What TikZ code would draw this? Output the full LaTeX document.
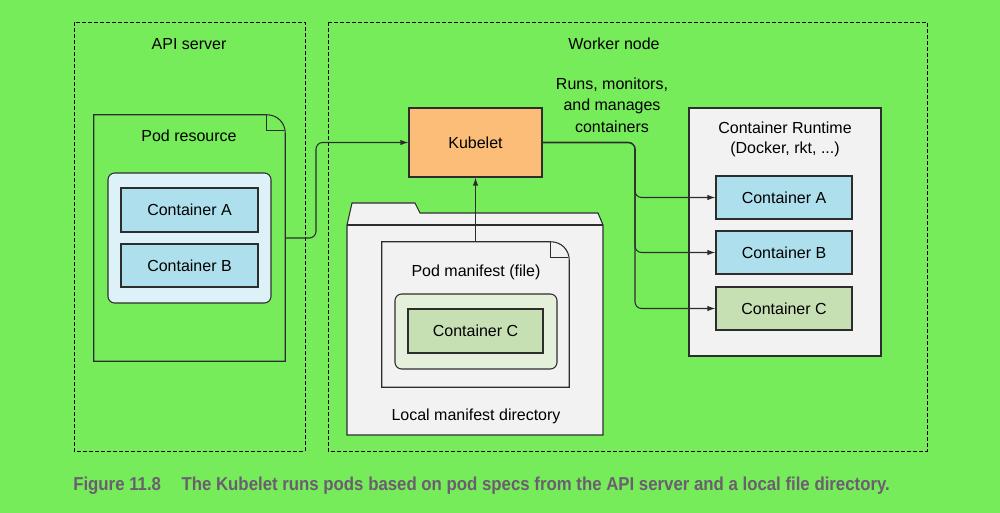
\documentclass[tikz,border=0pt]{standalone}
\usepackage{fontspec}
\setmainfont{Liberation Sans}
\newfontfamily\capfont[FakeStretch=0.9]{Liberation Sans}
\usetikzlibrary{arrows.meta,positioning,fit,shapes}

\definecolor{bggreen}{RGB}{119,236,90}
\definecolor{lineg}{RGB}{45,45,45}
\definecolor{ctblue}{RGB}{173,223,236}
\definecolor{podblue}{RGB}{221,241,248}
\definecolor{kubeorange}{RGB}{251,189,120}
\definecolor{dirgray}{RGB}{242,242,242}
\definecolor{ctgreen}{RGB}{198,224,180}
\definecolor{podgreen}{RGB}{229,240,219}
\definecolor{capgray}{RGB}{107,94,112}

\tikzset{
  every node/.style={font=\fontsize{12}{15}\selectfont, text=black},
  zone/.style={draw=black, line width=0.6pt, dash pattern=on 3pt off 1.5pt},
  docline/.style={draw=lineg, line width=0.8pt},
  box/.style={draw=lineg, line width=0.8pt, inner sep=0pt},
  arrow/.style={draw=lineg, line width=0.8pt, rounded corners=5pt, -{Latex[length=6pt,width=4pt]}}
}

\newcommand{\docpath}[1]{%
  \draw[docline] (#1.south west) -- (#1.north west) -- ([xshift=-14pt]#1.north east)
    .. controls ([xshift=-6pt]#1.north east) and ([yshift=-6pt]#1.north east) .. ([yshift=-14pt]#1.north east)
    -- (#1.south east) -- cycle;
  \draw[docline] ([xshift=-14pt]#1.north east) -- ([xshift=-14pt,yshift=-12pt]#1.north east)
    -- ([xshift=-1pt,yshift=-12pt]#1.north east);}

\begin{document}
\begin{tikzpicture}[x=0.75pt,y=-0.75pt]
    \path[use as bounding box, fill=bggreen] (0,0) rectangle (1000,513);

    % dashed zones
    \draw[zone] (74,22) rectangle (305,451);
    \draw[zone] (328,22) rectangle (927,451);
    \node (apilabel) at (189,44) {API server};
    \node (workerlabel) at (614,44) {Worker node};

    % pod resource on the API server
    \node[inner sep=0pt, fit={(94,115) (285,361)}] (podres) {};
    \docpath{podres}
    \node (podreslabel) at (189,136) {Pod resource};
    \node[box, fill=podblue, rounded corners=5pt, fit={(108,173) (271,303)}] (podresinner) {};
    \node[box, fill=ctblue, fit={(121,188) (258,232)}, label=center:Container A] (resA) {};
    \node[box, fill=ctblue, fit={(121,244) (258,287)}, label=center:Container B] (resB) {};

    % kubelet
    \node[box, fill=kubeorange, fit={(409,108) (542,177)}, label=center:Kubelet] (kubelet) {};

    % local manifest directory
    \draw[docline, fill=dirgray] (347,435) -- (347,225) -- (352,203) -- (415,203) -- (420,213)
        -- (598,213) -- (603,225) -- (603,435) -- cycle;
    \draw[docline] (347,225) -- (603,225);
    \node (dirlabel) at (476,416) {Local manifest directory};

    \node[inner sep=0pt, fit={(382,242) (569,387)}] (podman) {};
    \docpath{podman}
    \node (podmanlabel) at (476,272) {Pod manifest (file)};
    \node[box, fill=podgreen, rounded corners=5pt, fit={(395,294) (557,369)}] (podmaninner) {};
    \node[box, fill=ctgreen, fit={(408,309) (543,353)}, label=center:Container C] (manC) {};

    % container runtime
    \node[box, fill=dirgray, fit={(689,108) (881,356)}] (runtime) {};
    \node[align=center] (runtimelabel) at (785,139) {Container Runtime\\(Docker, rkt, ...)};
    \node[box, fill=ctblue, fit={(716,176) (852,219)}, label=center:Container A] (rtA) {};
    \node[box, fill=ctblue, fit={(716,231) (852,274)}, label=center:Container B] (rtB) {};
    \node[box, fill=ctgreen, fit={(716,287) (852,330)}, label=center:Container C] (rtC) {};

    \node[align=center, font=\fontsize{12}{16}\selectfont] (runslabel) at (612,105)
        {Runs, monitors,\\and manages\\containers};

    % connectors
    \coordinate (bend) at (316,142.5);
    \draw[arrow] (podres.east) -| (bend) -- (kubelet.west);
    \draw[arrow] (podman.north) -- (kubelet.south);

    \coordinate (split) at (635,142.5);
    \foreach \to in {rtA,rtB,rtC}
    \draw[arrow] (kubelet.east) -- (split) |- (\to.west);

    % caption
    \node[anchor=west, inner sep=0pt, text=capgray, font=\capfont\bfseries\fontsize{14}{16}\selectfont] (caption) at (73,486)
        {Figure 11.8\hspace{1.1em}The Kubelet runs pods based on pod specs from the API server and a local file directory.};
\end{tikzpicture}
\end{document}
